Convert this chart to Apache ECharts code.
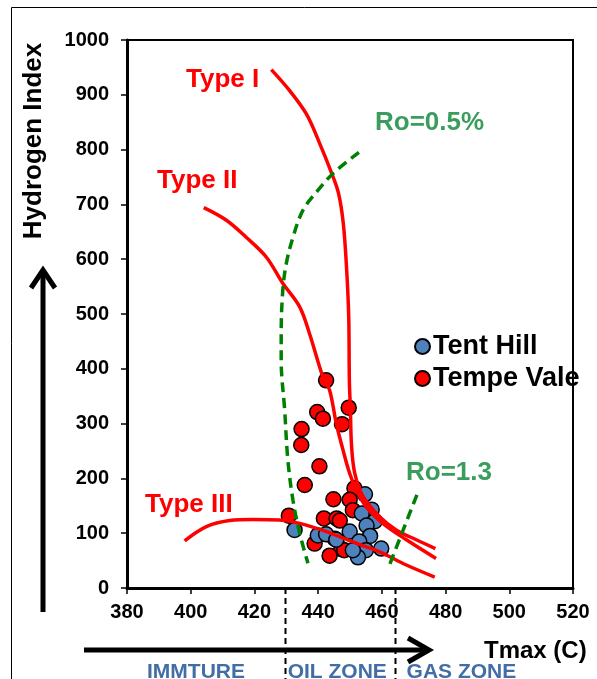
<!DOCTYPE html>
<html>
<head>
<meta charset="utf-8">
<script src="https://cdn.jsdelivr.net/npm/echarts@6/dist/echarts.min.js"></script>
<style>html,body{margin:0;padding:0;background:#fff}#c{width:597px;height:679px}</style>
</head>
<body>
<div id="c"></div>
<script>
// ---- data (Tmax °C, Hydrogen Index) ----
var xTicks = [380, 400, 420, 440, 460, 480, 500, 520];
var yTicks = [0, 100, 200, 300, 400, 500, 600, 700, 800, 900, 1000];

var tentHill = [[454.7,171],[456.8,143],[453.7,136],[457.8,122],[455.2,114],[456.3,95],[432.6,106],[439.9,96],[442.5,98],[449.9,103],[452.9,85],[445.7,88],[455.0,69],[459.8,72],[452.5,56],[450.9,69]];
var tempeVale = [[442.5,379],[449.6,329],[439.7,321],[441.5,309],[447.5,299],[434.8,290],[434.7,261],[440.4,222],[435.8,188],[451.4,182],[444.8,162],[449.9,161],[450.9,142],[430.8,132],[441.8,127],[445.8,127],[446.8,123],[445.2,90],[438.9,81],[447.3,71],[448.2,69],[443.6,59]];

var typeI = [[425.3,946],[431,908],[436.3,865],[440.5,811],[444.1,759],[446.4,720],[447.9,665],[448.9,586],[449.6,495],[449.8,379],[450.1,330],[450.5,258],[451.5,209],[454,168],[459.3,130],[464.5,106],[470.8,88],[476.8,72]];
var typeII = [[404.1,694],[411.2,671],[417.4,640],[423.7,604],[428.9,556],[434.2,513],[437.3,464],[441.5,385],[443.6,361],[445.7,300],[447.8,252],[449.9,209],[452,179],[455.1,148],[460.3,118],[467.7,88],[477,54]];
var typeIII = [[398.1,86],[404.9,112],[412.2,123],[419.5,125],[427.9,124],[434.2,118],[442.6,103],[450.9,84],[459.3,66],[467.7,42],[476.6,20]];
var ro05 = [[452.8,795],[444.6,756],[439.4,722],[435.2,689],[432.1,640],[430.0,592],[428.9,543],[428.4,464],[428.4,416],[429.5,324],[430.5,233],[432.1,160],[434.2,100],[436.8,45]];
var ro13 = [[471,170],[466.5,103],[462,36]];
var zoneBounds = [429.5, 464];
var zoneNames = ['IMMTURE', 'OIL ZONE', 'GAS ZONE'];

var FF = '"Liberation Sans", Arial, sans-serif';
var chart = echarts.init(document.getElementById('c'), null, {renderer: 'canvas'});

function curve(name, data) {
  return {name: name, type: 'line', data: data, smooth: 0.35, symbol: 'none', z: 5,
    lineStyle: {color: '#ff0000', width: 3.5}, silent: true};
}
function dashed(name, data) {
  return {name: name, type: 'line', data: data, smooth: 0.35, symbol: 'none', z: 5,
    lineStyle: {color: '#008000', width: 3.5, type: [10, 6]}, silent: true};
}

var option = {
  animation: false,
  backgroundColor: '#fff',
  grid: {left: 127, right: 24, top: 40, bottom: 91, show: true, borderColor: '#000', borderWidth: 2, backgroundColor: 'transparent'},
  xAxis: {
    type: 'value', min: xTicks[0], max: xTicks[xTicks.length - 1], interval: 20,
    splitLine: {show: false},
    axisLine: {show: true, onZero: false, lineStyle: {color: '#000', width: 3}},
    axisTick: {show: true, inside: false, length: 6, lineStyle: {color: '#000', width: 1.5}},
    axisLabel: {margin: 14, color: '#000', fontWeight: 'bold', fontSize: 20, fontFamily: FF,
      formatter: function (v) { return String(v); }}
  },
  yAxis: {
    type: 'value', min: yTicks[0], max: yTicks[yTicks.length - 1], interval: 100,
    splitLine: {show: false},
    axisLine: {show: true, onZero: false, lineStyle: {color: '#000', width: 3}},
    axisTick: {show: true, inside: false, length: 6, lineStyle: {color: '#000', width: 1.5}},
    axisLabel: {margin: 18, color: '#000', fontWeight: 'bold', fontSize: 20, fontFamily: FF,
      formatter: function (v) { return String(v); }}
  },
  legend: {
    data: ['Tent Hill', 'Tempe Vale'], orient: 'vertical', left: 414, top: 333, padding: 0,
    icon: 'circle', itemWidth: 15, itemHeight: 15, itemGap: 5,
    textStyle: {color: '#000', fontWeight: 'bold', fontSize: 27, fontFamily: FF, lineHeight: 27, padding: [0, 0, 0, -2]}
  },
  series: [
    {name: 'Tempe Vale', type: 'scatter', data: tempeVale, symbol: 'circle', symbolSize: 15, z: 3,
      itemStyle: {color: '#ff0000', borderColor: '#000', borderWidth: 1.5, opacity: 1}},
    {name: 'Tent Hill', type: 'scatter', data: tentHill, symbol: 'circle', symbolSize: 15, z: 4,
      itemStyle: {color: '#4f81bd', borderColor: '#000', borderWidth: 1.5, opacity: 1}},
    curve('Type I', typeI), curve('Type II', typeII), curve('Type III', typeIII),
    dashed('Ro=0.5%', ro05), dashed('Ro=1.3', ro13)
  ]
};
chart.setOption(option);

// ---- annotations ----
var px = zoneBounds.map(function (v) { return chart.convertToPixel({xAxisIndex: 0}, v); });
var axisY = chart.convertToPixel({yAxisIndex: 0}, 0);
var g = [];
function txt(s, x, y, color, size, extra) {
  var o = {type: 'text', x: x, y: y, z: 20, style: Object.assign({text: s, fill: color, font: 'bold ' + size + 'px ' + FF, textAlign: 'left', textVerticalAlign: 'middle'}, extra || {})};
  return o;
}
// outer frame
g.push({type: 'line', shape: {x1: 11.5, y1: 7.5, x2: 597, y2: 7.5}, style: {stroke: '#000', lineWidth: 1}});
g.push({type: 'line', shape: {x1: 11.5, y1: 7.5, x2: 11.5, y2: 679}, style: {stroke: '#000', lineWidth: 1}});
// curve labels
g.push(txt('Type I', 186, 80, '#ff0000', 26));
g.push(txt('Type II', 157, 181, '#ff0000', 26));
g.push(txt('Type III', 145, 505, '#ff0000', 26));
g.push(txt('Ro=0.5%', 375, 123, '#3a9d5d', 26));
g.push(txt('Ro=1.3', 406, 473, '#3a9d5d', 26));
// axis titles
g.push({type: 'text', x: 34, y: 141, rotation: Math.PI / 2, z: 20,
  style: {text: 'Hydrogen Index', fill: '#000', font: 'bold 26px ' + FF, textAlign: 'center', textVerticalAlign: 'middle'}});
g.push(txt('Tmax (C)', 484, 651, '#000', 24));
// arrows
g.push({type: 'line', shape: {x1: 43, y1: 612, x2: 43, y2: 270}, style: {stroke: '#000', lineWidth: 5}});
g.push({type: 'polyline', shape: {points: [[31, 288], [43, 270], [55, 288]]}, style: {stroke: '#000', lineWidth: 5, fill: null, lineJoin: 'miter'}});
g.push({type: 'line', shape: {x1: 84, y1: 650, x2: 428, y2: 650}, style: {stroke: '#000', lineWidth: 5}});
g.push({type: 'polyline', shape: {points: [[408, 638], [429, 650], [408, 662]]}, style: {stroke: '#000', lineWidth: 5, fill: null, lineJoin: 'miter'}});
// zone boundaries
px.forEach(function (x) {
  g.push({type: 'line', z: 15, shape: {x1: Math.round(x) + 0.5, y1: axisY, x2: Math.round(x) + 0.5, y2: 679}, style: {stroke: '#000', lineWidth: 2, lineDash: [6, 4]}});
});
// zone labels
var zx = [147, px[0] + 3, px[1] + 12];
zoneNames.forEach(function (n, i) { g.push(txt(n, zx[i], 672, '#426ea6', 21)); });
chart.setOption({graphic: g});
</script>
</body>
</html>
